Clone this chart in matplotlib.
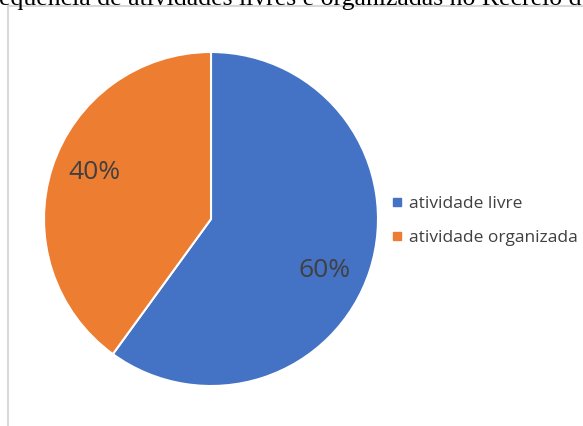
import matplotlib.pyplot as plt
from matplotlib.patches import Rectangle

# data
categories = ['atividade livre', 'atividade organizada']
values = [60, 40]
colors = ['#4472C4', '#ED7D31']

W, H = 583, 426
fig = plt.figure(figsize=(W / 100, H / 100), dpi=100)

# cropped caption from the document above the chart
fig.text(-0.002, 1 - 4.5 / H, 'equência de atividades livres e organizadas no Recreio d',
         family='Liberation Serif', fontsize=18.5, va='baseline', ha='left', color='black')

# chart frame (only left and top edges visible)
fig.patches.append(Rectangle((8 / W, -0.1), 1.2, 1 - 6 / H + 0.1, transform=fig.transFigure,
                             fill=False, edgecolor='#D9D9D9', linewidth=1.5))

cx, cy, r = 211, 219, 167
ax = fig.add_axes([(cx - r) / W, (H - cy - r) / H, 2 * r / W, 2 * r / H])
wedges, texts, autotexts = ax.pie(values, colors=colors, startangle=90, counterclock=False,
                                  autopct='%1.0f%%', pctdistance=0.74, radius=1,
                                  wedgeprops=dict(edgecolor='white', linewidth=1.5),
                                  textprops=dict(fontsize=19, color='#404040', family='Open Sans'))
# excel-like label placement
autotexts[0].set_position((0.68, -0.31))
autotexts[1].set_position((-0.70, 0.28))
ax.set_xlim(-1, 1)
ax.set_ylim(-1, 1)
ax.set_aspect('equal')
ax.axis('off')

handles = [plt.Line2D([], [], marker='s', linestyle='', markersize=6, color=c) for c in colors]
fig.legend(handles, categories, loc='upper left', bbox_to_anchor=(384 / W, 1 - 187 / H),
           frameon=False, handlelength=0.5, handletextpad=0.45, labelspacing=1.05,
           prop=dict(family='Open Sans', size=12.5), labelcolor='#404040', borderpad=0)

fig.savefig('out.png', dpi=100)
